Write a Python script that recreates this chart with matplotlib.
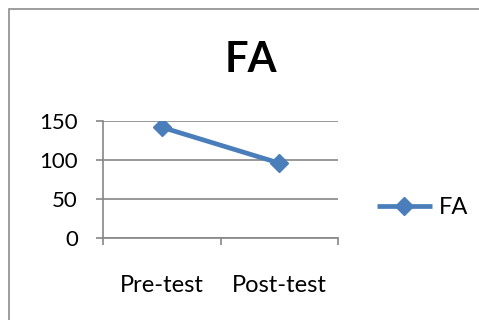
import matplotlib.pyplot as plt
from matplotlib.patches import Rectangle

categories = ["Pre-test", "Post-test"]
fa_values = [142, 96]
y_ticks = [0, 50, 100, 150]

line_color = "#4A7EBB"
axis_color = "#868686"
W, H = 479, 320

plt.rcParams["font.family"] = ["Lato", "DejaVu Sans"]

fig = plt.figure(figsize=(W / 100, H / 100), dpi=100)

# chart border (runs off the right and bottom edges)
fig.patches.append(Rectangle((9 / W, -0.1), 1.2, 1.1 - 9 / H, transform=fig.transFigure,
                             fill=False, edgecolor="#8c8c8c", linewidth=1.2))

ax = fig.add_axes([103 / W, 1 - 238 / H, (338 - 103) / W, (238 - 121) / H])
x = [0.5, 1.5]
ax.plot(x, fa_values, color=line_color, linewidth=3.4, marker="D", markersize=9,
        markerfacecolor=line_color, markeredgecolor=line_color, label="FA", solid_capstyle="butt")

ax.set_xlim(0, 2)
ax.set_ylim(0, 150)
ax.set_yticks(y_ticks)
ax.set_xticks([0, 1, 2])
ax.set_xticklabels([])
ax.set_xticks(x, minor=True)
ax.set_xticklabels(categories, minor=True, fontsize=17)
ax.tick_params(axis="x", which="minor", length=0, pad=27)
ax.tick_params(axis="x", which="major", length=5, color=axis_color, width=1.2)
ax.tick_params(axis="y", length=5, color=axis_color, width=1.2, labelsize=16, pad=13)

ax.grid(axis="y", color=axis_color, linewidth=1.2)
ax.set_axisbelow(True)
for s in ["top", "right"]:
    ax.spines[s].set_visible(False)
for s in ["left", "bottom"]:
    ax.spines[s].set_color(axis_color)
    ax.spines[s].set_linewidth(1.2)

fig.text(251 / W, 1 - 60 / H, "FA", fontsize=30, fontweight="bold", ha="center", va="center")

fig.legend(loc="center left", bbox_to_anchor=(356 / W, 1 - 208 / H), frameon=False,
           fontsize=17, handlelength=2.3, handletextpad=0.3)

fig.savefig("out.png", dpi=100)
